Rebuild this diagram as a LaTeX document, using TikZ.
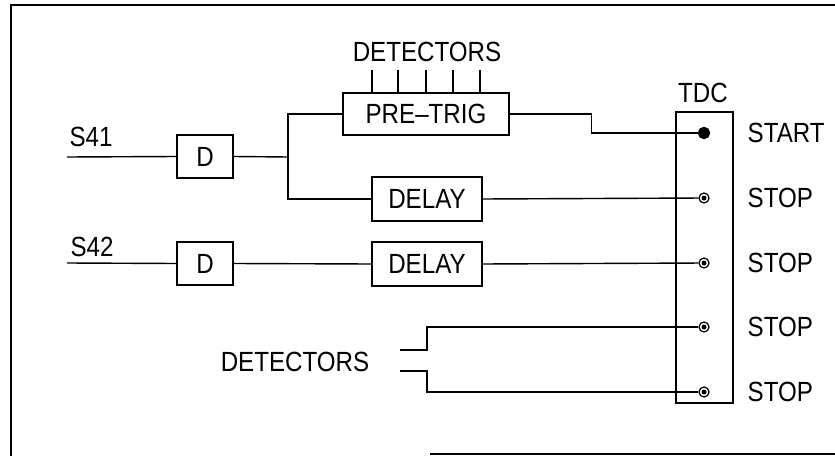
\documentclass[tikz,border=0pt]{standalone}
\usepackage{fontspec}
\setmainfont{Liberation Sans}
\usetikzlibrary{positioning, calc}
\newcommand{\cadtext}[1]{\scalebox{0.87}[1]{#1}}

\begin{document}
\begin{tikzpicture}[
    x=0.02cm, y=-0.02cm,
    line width=0.8pt,
    block/.style={rectangle, draw, line width=0.8pt, inner sep=0pt, align=center, font=\fontsize{15.8}{18}\selectfont},
    label/.style={inner sep=0pt, font=\fontsize{15.8}{18}\selectfont},
    pin/.style={circle, draw, line width=0.7pt, minimum size=0.2cm, inner sep=0pt,
        path picture={\fill (path picture bounding box.center) circle (0.05cm);}},
    startpin/.style={circle, draw, fill, minimum size=0.22cm, inner sep=0pt},
]
\useasboundingbox (0,0) rectangle (835,456);

% frame of the sheet
\draw[line width=1pt] (11,456) -- (11,5) -- (835,5);
\draw[line width=0.6pt] (430,454) -- (835,454);

% input side
\coordinate (s41in) at (67,157);
\coordinate (s42in) at (67,263);
\node[label] (s41) at (91,137) {\cadtext{S41}};
\node[label] (s42) at (92,247) {\cadtext{S42}};
\node[block, minimum width=1.12cm, minimum height=0.86cm] (d1) at (205,156.5) {\cadtext{D}};
\node[block, minimum width=1.12cm, minimum height=0.86cm] (d2) at (205,263.5) {\cadtext{D}};
\coordinate (br) at (288,157);

\node[block, minimum width=3.32cm, minimum height=0.84cm] (pretrig) at (426,114) {\cadtext{PRE--TRIG}};
\node[block, minimum width=2.2cm, minimum height=0.88cm] (delay1) at (427,199) {\cadtext{DELAY}};
\node[block, minimum width=2.2cm, minimum height=0.88cm] (delay2) at (427,264) {\cadtext{DELAY}};

\node[label] (dettop) at (427,52) {\cadtext{DETECTORS}};
\foreach \x in {372,398,426,453,480}
    \draw (\x,70) -- (\x,93);

% TDC
\node[rectangle, draw, minimum width=1.14cm, minimum height=5.82cm, inner sep=0pt] (tdc) at (704.5,257.5) {};
\node[label] (tdclabel) at (703,93) {\cadtext{TDC}};
\node[startpin] (p1) at (704,133) {};
\node[pin] (p2) at (704,198) {};
\node[pin] (p3) at (704,263) {};
\node[pin] (p4) at (704,327) {};
\node[pin] (p5) at (704,392) {};
\node[label, anchor=west] (l1) at (747,133) {\cadtext{START}};
\node[label, anchor=west] (l2) at (747,198) {\cadtext{STOP}};
\node[label, anchor=west] (l3) at (747,263) {\cadtext{STOP}};
\node[label, anchor=west] (l4) at (747,327) {\cadtext{STOP}};
\node[label, anchor=west] (l5) at (747,392) {\cadtext{STOP}};

\node[label] (detlow) at (295,362) {\cadtext{DETECTORS}};
\coordinate (det1) at (400,350);
\coordinate (det2) at (400,371);

% signal lines
\draw (s41in) -- (d1.west);
\draw (s42in) -- (d2.west);
\draw (d1.east) -- (br);
\draw (pretrig.west) -| (br) |- (delay1.west);
\draw (pretrig.east) -- ++(82,0) |- (p1);
\draw (delay1.east) -- (p2);
\draw (d2.east) -- (delay2.west);
\draw (delay2.east) -- (p3);
\draw (det1) -- ++(27,0) |- (p4);
\draw (det2) -- ++(27,0) |- (p5);

\end{tikzpicture}
\end{document}
